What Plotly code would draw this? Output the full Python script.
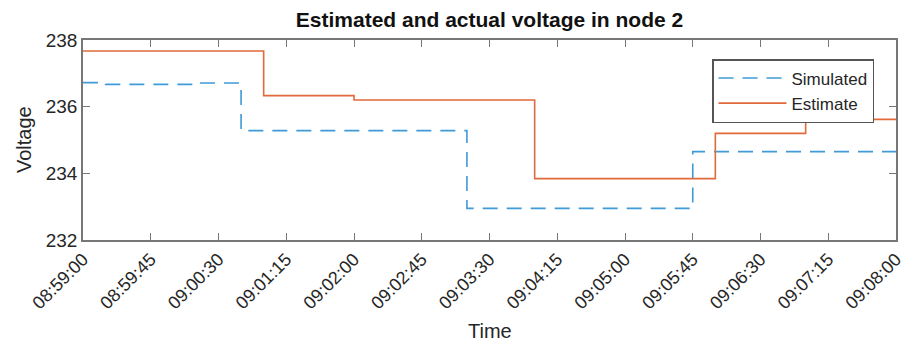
import plotly.graph_objects as go

day = "2016-01-01 "
sim_times = ["08:59:00", "08:59:15", "09:00:15", "09:00:45", "09:03:15", "09:05:45", "09:08:00"]
sim_vals = [236.72, 236.67, 236.71, 235.28, 232.95, 234.65, 234.65]

est_times = ["08:59:00", "09:01:00", "09:02:00", "09:04:00", "09:06:00", "09:07:00", "09:08:00"]
est_vals = [237.67, 236.33, 236.2, 233.84, 235.2, 235.62, 235.62]

y_ticks = [232, 234, 236, 238]

FONT = "Liberation Sans"
AX = "#777777"
TXT = "#262626"

fig = go.Figure()
fig.add_trace(go.Scatter(
    x=[day + t for t in sim_times], y=sim_vals, name="Simulated",
    mode="lines", line=dict(color="#3f9ad8", width=1.6, dash="15px,9px", shape="hv")))
fig.add_trace(go.Scatter(
    x=[day + t for t in est_times], y=est_vals, name="Estimate",
    mode="lines", line=dict(color="#e2693a", width=1.6, shape="hv")))

fig.update_layout(
    width=915, height=345,
    margin=dict(l=83, r=19, t=40, b=105, autoexpand=False),
    paper_bgcolor="white", plot_bgcolor="white",
    font=dict(family=FONT, color=TXT, size=18),
    title=dict(text="<b>Estimated and actual voltage in node 2</b>",
               x=(83 + 896) / 2 / 915, xanchor="center", xref="container",
               y=1 - 20 / 345, yref="container", yanchor="middle",
               font=dict(size=21, color="#111111", family=FONT)),
    showlegend=True,
    legend=dict(x=(712 - 83) / 813, y=(240 - 59) / 200, xanchor="left", yanchor="top",
                bgcolor="white", bordercolor="#555555", borderwidth=1.5,
                font=dict(size=17, color=TXT, family=FONT),
                itemwidth=68, tracegroupgap=0),
)

fig.update_xaxes(
    type="date", automargin=False,
    range=[day + "08:59:00", day + "09:08:00"],
    tick0=day + "08:59:00", dtick=45000,
    tickformat="%H:%M:%S", tickangle=-45,
    tickfont=dict(size=18, color=TXT, family=FONT),
    showgrid=False, zeroline=False,
    showline=True, linecolor=AX, linewidth=1.5, mirror="ticks",
    ticks="inside", ticklen=7, tickcolor=AX, tickwidth=1.2,
)
fig.update_yaxes(
    automargin=False,
    range=[232, 238], tickvals=y_ticks, ticktext=[str(v) for v in y_ticks],
    tickfont=dict(size=19, color=TXT, family=FONT),
    showgrid=False, zeroline=False,
    showline=True, linecolor=AX, linewidth=1.5, mirror="ticks",
    ticks="inside", ticklen=7, tickcolor=AX, tickwidth=1.2,
)

fig.add_annotation(text="Time", xref="paper", yref="paper", x=0.5, y=-(331 - 240) / 200,
                   xanchor="center", yanchor="middle", showarrow=False,
                   font=dict(size=20, color=TXT, family=FONT))
fig.add_annotation(text="Voltage", xref="paper", yref="paper", x=-(83 - 24) / 813, y=0.5,
                   xanchor="center", yanchor="middle", showarrow=False, textangle=-90,
                   font=dict(size=20, color=TXT, family=FONT))

fig.write_html("out.html", config={"displayModeBar": False},
               post_script="document.body.style.margin='0';document.body.style.overflow='hidden';")
